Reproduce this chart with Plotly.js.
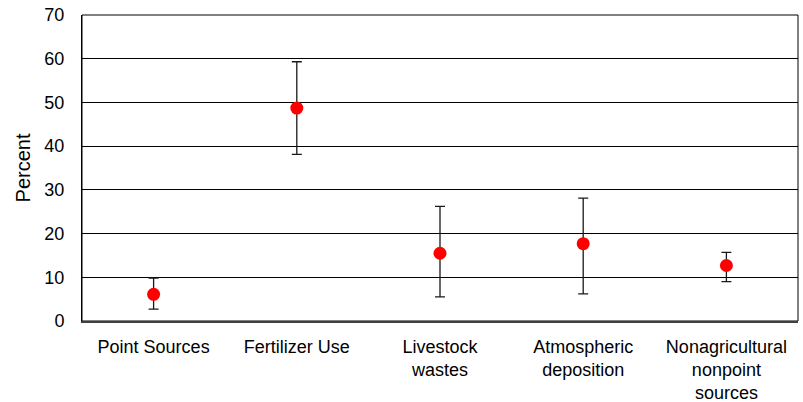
<!DOCTYPE html>
<html>
<head>
<meta charset="utf-8">
<script src="https://cdn.plot.ly/plotly-3.0.1.min.js"></script>
<style>
  html, body { margin: 0; padding: 0; background: #fff; }
  #chart { width: 803px; height: 402px; }
</style>
</head>
<body>
<div id="chart"></div>
<script>
// Nitrogen source shares (percent) with uncertainty ranges
const categories = [
  "Point Sources",
  "Fertilizer Use",
  "Livestock<br>wastes",
  "Atmospheric<br>deposition",
  "Nonagricultural<br>nonpoint<br>sources"
];
const percentValues = [6.1, 48.7, 15.5, 17.7, 12.7];
const upperBounds = [9.8, 59.3, 26.2, 28.1, 15.7];
const lowerBounds = [2.7, 38.1, 5.5, 6.2, 9.0];
const yTickValues = [0, 10, 20, 30, 40, 50, 60, 70];

const plusErr = percentValues.map((v, i) => upperBounds[i] - v);
const minusErr = percentValues.map((v, i) => v - lowerBounds[i]);

const trace = {
  type: "scatter",
  mode: "markers",
  x: categories,
  y: percentValues,
  marker: { color: "#ff0000", size: 13 },
  error_y: {
    type: "data",
    symmetric: false,
    array: plusErr,
    arrayminus: minusErr,
    color: "#1a1a1a",
    thickness: 1.3,
    width: 5
  },
  hoverinfo: "x+y",
  showlegend: false
};

const layout = {
  width: 803,
  height: 402,
  margin: { l: 82, r: 5, t: 15, b: 81 },
  paper_bgcolor: "#ffffff",
  plot_bgcolor: "#ffffff",
  font: { family: "Liberation Sans, Arial, sans-serif", color: "#000000", size: 18 },
  xaxis: {
    type: "category",
    range: [-0.5, 4.5],
    showgrid: false,
    zeroline: false,
    showline: true,
    linecolor: "#404040",
    linewidth: 2,
    ticks: "",
    ticklabelstandoff: 8,
    tickfont: { size: 18 }
  },
  yaxis: {
    range: [0, 70],
    tickvals: yTickValues,
    showgrid: true,
    gridcolor: "#000000",
    gridwidth: 1,
    zeroline: false,
    showline: true,
    linecolor: "#000000",
    linewidth: 1,
    ticks: "",
    ticklabelstandoff: 13,
    tickfont: { size: 18 },
    title: { text: "Percent", font: { size: 20 }, standoff: 8 }
  },
  shapes: [
    {
      type: "rect", xref: "paper", yref: "paper",
      x0: 0, x1: 1, y0: 0, y1: 1,
      line: { color: "#000000", width: 1 },
      layer: "below"
    }
  ]
};

Plotly.newPlot("chart", [trace], layout, { displayModeBar: false, staticPlot: true });
</script>
</body>
</html>
